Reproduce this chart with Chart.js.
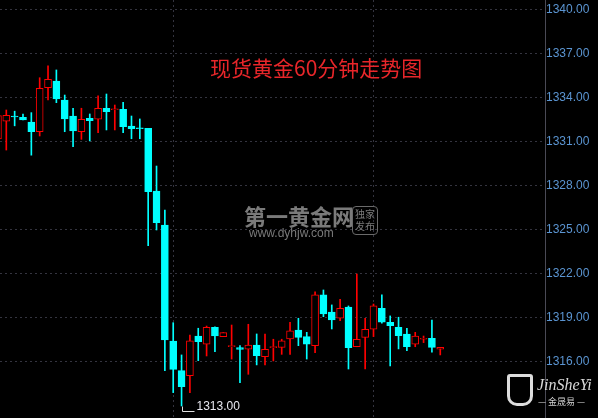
<!DOCTYPE html>
<html>
<head>
<meta charset="utf-8">
<script src="https://cdn.jsdelivr.net/npm/chart.js@4"></script>
<style>
  body { margin:0; background:#000; }
  #wrap { position:relative; width:598px; height:418px; }
  .ov { position:absolute; white-space:nowrap; }
</style>
</head>
<body>
<div id="wrap">
  <canvas id="kChart"></canvas>
  <div class="ov" style="left:210px;top:52px;font:21px 'Noto Sans CJK SC';color:#e8262a;">现货黄金60分钟走势图</div>
  <div class="ov" style="left:244px;top:199px;font:bold 22px 'Noto Sans CJK SC';color:#7a7a7a;">第一黄金网</div>
  <div class="ov" style="left:249px;top:226px;font:12px 'Liberation Sans';color:#7a7a7a;">www.dyhjw.com</div>
  <div class="ov" style="left:352px;top:206px;width:24px;height:26px;border:1px solid #6a6a6a;border-radius:4px;font:10px/12px 'Noto Sans CJK SC';color:#7a7a7a;text-align:center;padding-top:1px;">独家<br>发布</div>
  <div class="ov" style="left:507px;top:374px;width:20px;height:26px;border:3px solid #ddd;border-radius:3px 3px 10px 10px;"></div>
  <div class="ov" style="left:537px;top:376px;font:italic 16px 'Liberation Serif';color:#d8d8d8;">JinSheYi</div>
  <div class="ov" style="left:538px;top:395px;font:9px 'Noto Sans CJK SC';color:#cfcfcf;">— 金晟易 —</div>
</div>
<script>
// 60 min candles, first one is cut off at the left edge
const openP  = [1331.2, 1332.41,1332.77,1332.68,1332.36,1331.70,1334.70,1335.16,1333.86,1332.77,1331.70,
  1332.62,1332.55,1333.30,1333.20,1333.23,1332.09,1331.95,1331.93,1327.66,1325.34,1317.43,
  1315.41,1315.07,1317.77,1317.21,1318.37,1317.73,1317.05,1316.98,1316.87,1317.16,1316.36,
  1316.98,1317.00,1317.57,1318.18,1317.73,1317.11,1320.57,1319.41,1318.98,1319.75,1317.04,
  1317.68,1318.23,1319.66,1318.71,1318.37,1317.91,1317.21,1317.55,1317.61,1316.87];
const highP  = [1333.3, 1333.18,1333.10,1332.90,1333.00,1335.38,1336.20,1335.91,1334.20,1333.30,1333.30,
  1332.91,1334.14,1334.27,1333.52,1333.71,1332.77,1332.57,1331.93,1329.36,1326.36,1318.68,
  1316.48,1317.84,1318.30,1318.45,1318.40,1318.00,1318.52,1317.11,1318.57,1317.91,1317.91,
  1317.55,1317.55,1318.71,1318.98,1318.02,1320.79,1320.91,1319.89,1320.27,1319.82,1322.00,
  1318.98,1319.95,1320.57,1319.14,1319.05,1318.30,1318.02,1317.77,1318.86,1317.00];
const lowP   = [1331.0, 1330.45,1332.10,1332.50,1330.10,1331.41,1333.86,1333.68,1331.70,1330.68,1331.18,
  1331.07,1331.63,1331.82,1331.82,1331.63,1331.22,1331.22,1323.93,1325.00,1315.41,1313.91,
  1313.00,1313.91,1316.09,1316.41,1316.70,1317.73,1316.20,1314.59,1315.16,1315.80,1315.80,
  1316.07,1316.52,1316.52,1317.11,1316.20,1316.63,1319.09,1318.25,1318.82,1315.52,1317.04,
  1315.52,1317.73,1318.64,1315.73,1316.89,1316.77,1317.04,1317.32,1316.66,1316.48];
const closeP = [1332.8, 1332.82,1332.70,1332.50,1331.70,1334.66,1335.27,1333.93,1332.57,1331.75,1332.55,
  1332.45,1333.30,1333.07,1333.25,1332.04,1331.91,1331.90,1327.61,1325.50,1317.50,1315.50,
  1314.32,1317.45,1317.39,1318.37,1317.77,1318.00,1317.08,1316.86,1317.16,1316.43,1316.87,
  1317.00,1317.45,1318.13,1317.68,1317.21,1320.57,1319.27,1318.86,1319.66,1316.98,1317.55,
  1318.23,1319.82,1318.71,1318.48,1317.80,1317.05,1317.77,1317.57,1317.00,1317.00];
const yTicks = [1316, 1319, 1322, 1325, 1328, 1331, 1334, 1337, 1340];
const dayLines = [20, 44]; // hour separators, candle index

const UP = '#ff0000', DOWN = '#00ffff';
const isUp = openP.map((o, i) => closeP[i] >= o);

const wickData = highP.map((h, i) => ({ x: i - 1, y: [lowP[i], h] }));
const bodyData = openP.map((o, i) => ({ x: i - 1, y: [o, closeP[i]] }));

// label for the lowest point
const lowLabel = {
  id: 'lowLabel',
  afterDatasetsDraw(chart) {
    let k = 0;
    lowP.forEach((v, i) => { if (v < lowP[k]) k = i; });
    const x = Math.round(chart.scales.x.getPixelForValue(k - 1)) + 0.5;
    const y = Math.round(chart.scales.y.getPixelForValue(lowP[k])) + 0.5;
    const c = chart.ctx;
    c.save();
    c.strokeStyle = '#e0e0e0';
    c.lineWidth = 1;
    c.beginPath();
    c.moveTo(x, y);
    c.lineTo(x, y + 5);
    c.lineTo(x + 12, y + 5);
    c.stroke();
    c.fillStyle = '#e8e8f0';
    c.font = '12px "Liberation Sans"';
    c.textBaseline = 'alphabetic';
    c.fillText(lowP[k].toFixed(2), x + 14, y + 3);
    c.restore();
  }
};

const ctx = document.getElementById('kChart');

new Chart(ctx, {
  type: 'bar',
  data: {
    datasets: [{
      label: 'body',
      data: bodyData,
      backgroundColor: isUp.map(u => u ? '#000' : DOWN),
      borderColor: isUp.map(u => u ? UP : DOWN),
      borderWidth: 1,
      borderSkipped: false,
      barThickness: 7,
      minBarLength: 1,
      grouped: false,
      order: 0
    }, {
      label: 'wick',
      data: wickData,
      backgroundColor: isUp.map(u => u ? UP : DOWN),
      borderWidth: 0,
      barThickness: 1,
      grouped: false,
      order: 1
    }]
  },
  plugins: [lowLabel],
  options: {
    responsive: true,
    maintainAspectRatio: false,
    animation: false,
    layout: { padding: 0, autoPadding: false },
    plugins: { legend: { display: false }, tooltip: { enabled: false } },
    scales: {
      x: {
        type: 'linear',
        offset: false,
        min: -0.755,
        max: 64.55,
        afterBuildTicks: s => { s.ticks = dayLines.map(v => ({ value: v })); },
        afterFit: s => { s.height = 0; s.paddingLeft = 0; s.paddingRight = 0; },
        ticks: { display: false },
        grid: { color: '#34343f', drawTicks: false, offset: false },
        border: { display: false, dash: [2, 3] }
      },
      y: {
        position: 'right',
        min: 1312.18,
        max: 1340.68,
        afterBuildTicks: s => { s.ticks = yTicks.map(v => ({ value: v })); },
        afterFit: s => { s.width = 53; s.paddingTop = 0; s.paddingBottom = 0; },
        ticks: {
          color: '#5b95d2',
          font: { family: 'Liberation Sans', size: 12 },
          padding: 1,
          callback: v => v.toFixed(2)
        },
        grid: { color: '#34343f', drawTicks: false },
        border: { display: true, color: '#4a4a55', dash: [2, 3] }
      }
    }
  }
});
</script>
</body>
</html>
